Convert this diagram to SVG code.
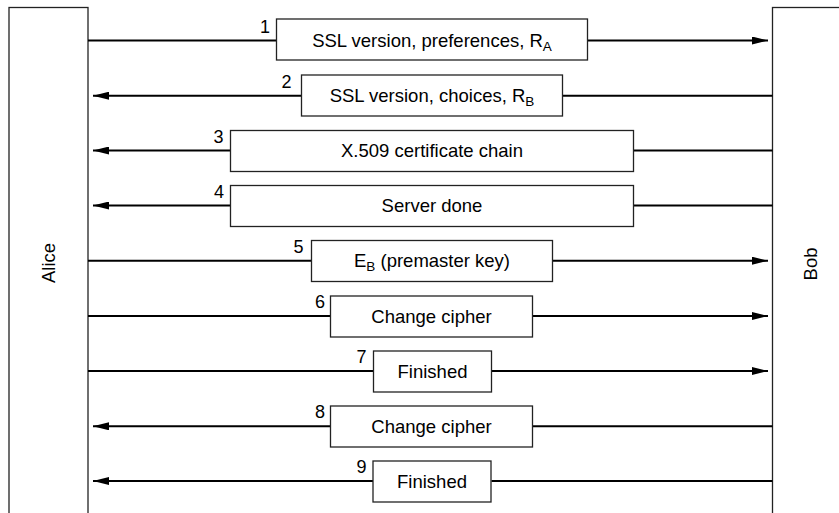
<svg xmlns="http://www.w3.org/2000/svg" width="839" height="513" viewBox="0 0 839 513">
<style>
  .life { fill: #ffffff; stroke: #222222; stroke-width: 1.3; }
  .box { fill: #ffffff; stroke: #222222; stroke-width: 1.3; }
  .msg { stroke: #000000; stroke-width: 2; fill: none; }
  .lbl { font-family: "Liberation Sans", Arial, Helvetica, sans-serif; font-size: 18.5px; fill: #000000; text-anchor: middle; }
  .num { font-family: "Liberation Sans", Arial, Helvetica, sans-serif; font-size: 18px; fill: #000000; text-anchor: end; }
  .sub { font-size: 13.5px; }
</style>
<defs>
  <marker id="arr" viewBox="0 0 16 8" refX="16" refY="4" markerWidth="16" markerHeight="8" markerUnits="userSpaceOnUse" orient="auto">
    <path d="M0,0 L16,4 L0,8 Z" fill="#000000"/>
  </marker>
</defs>
<rect width="839" height="513" fill="#ffffff"/>

<g id="alice">
  <rect class="life" x="9" y="7.5" width="79" height="520"/>
  <text class="lbl" transform="translate(55,263) rotate(-90)">Alice</text>
</g>
<g id="bob">
  <rect class="life" x="772.5" y="7.5" width="80" height="520"/>
  <text class="lbl" transform="translate(817,264) rotate(-90)">Bob</text>
</g>

<g id="connectors">
  <line class="msg" x1="88" y1="40.5" x2="276.5" y2="40.5"/>
  <line class="msg" x1="587.5" y1="40.5" x2="768" y2="40.5" marker-end="url(#arr)"/>

  <line class="msg" x1="772.5" y1="95.7" x2="562.5" y2="95.7"/>
  <line class="msg" x1="301.5" y1="95.7" x2="93" y2="95.7" marker-end="url(#arr)"/>

  <line class="msg" x1="772.5" y1="150.5" x2="633.5" y2="150.5"/>
  <line class="msg" x1="230.5" y1="150.5" x2="93" y2="150.5" marker-end="url(#arr)"/>

  <line class="msg" x1="772.5" y1="205.5" x2="633.5" y2="205.5"/>
  <line class="msg" x1="230.5" y1="205.5" x2="93" y2="205.5" marker-end="url(#arr)"/>

  <line class="msg" x1="88" y1="260.7" x2="311.5" y2="260.7"/>
  <line class="msg" x1="552.5" y1="260.7" x2="768" y2="260.7" marker-end="url(#arr)"/>

  <line class="msg" x1="88" y1="316" x2="330.5" y2="316"/>
  <line class="msg" x1="532.5" y1="316" x2="768" y2="316" marker-end="url(#arr)"/>

  <line class="msg" x1="88" y1="371" x2="373.5" y2="371"/>
  <line class="msg" x1="491.5" y1="371" x2="768" y2="371" marker-end="url(#arr)"/>

  <line class="msg" x1="772.5" y1="426.3" x2="532.5" y2="426.3"/>
  <line class="msg" x1="330.5" y1="426.3" x2="93" y2="426.3" marker-end="url(#arr)"/>

  <line class="msg" x1="772.5" y1="481" x2="491.5" y2="481"/>
  <line class="msg" x1="373" y1="481" x2="93" y2="481" marker-end="url(#arr)"/>
</g>

<g id="m1">
  <rect class="box" x="276.5" y="19" width="311" height="41"/>
  <text class="num" x="270" y="32.5">1</text>
  <text class="lbl" x="432" y="47">SSL version, preferences, R<tspan class="sub" dy="4">A</tspan></text>
</g>
<g id="m2">
  <rect class="box" x="301.5" y="75" width="261" height="41"/>
  <text class="num" x="291.5" y="87.7">2</text>
  <text class="lbl" x="432" y="102.2">SSL version, choices, R<tspan class="sub" dy="4">B</tspan></text>
</g>
<g id="m3">
  <rect class="box" x="230.5" y="130.5" width="403" height="41"/>
  <text class="num" x="223.5" y="142.5">3</text>
  <text class="lbl" x="432" y="157">X.509 certificate chain</text>
</g>
<g id="m4">
  <rect class="box" x="230.5" y="185.5" width="403" height="41"/>
  <text class="num" x="224" y="197.5">4</text>
  <text class="lbl" x="432" y="212">Server done</text>
</g>
<g id="m5">
  <rect class="box" x="311.5" y="240.5" width="241" height="41"/>
  <text class="num" x="303.5" y="252.7">5</text>
  <text class="lbl" x="432" y="267.2">E<tspan class="sub" dy="4">B</tspan><tspan dy="-4"> (premaster key)</tspan></text>
</g>
<g id="m6">
  <rect class="box" x="330.5" y="296" width="202" height="41"/>
  <text class="num" x="325" y="308">6</text>
  <text class="lbl" x="431.5" y="322.5">Change cipher</text>
</g>
<g id="m7">
  <rect class="box" x="373.5" y="351" width="118" height="41"/>
  <text class="num" x="366.5" y="363">7</text>
  <text class="lbl" x="432.5" y="377.5">Finished</text>
</g>
<g id="m8">
  <rect class="box" x="330.5" y="406" width="202" height="41"/>
  <text class="num" x="325" y="418.3">8</text>
  <text class="lbl" x="431.5" y="432.8">Change cipher</text>
</g>
<g id="m9">
  <rect class="box" x="373" y="461" width="118" height="41"/>
  <text class="num" x="366.5" y="473">9</text>
  <text class="lbl" x="432" y="487.5">Finished</text>
</g>
</svg>
